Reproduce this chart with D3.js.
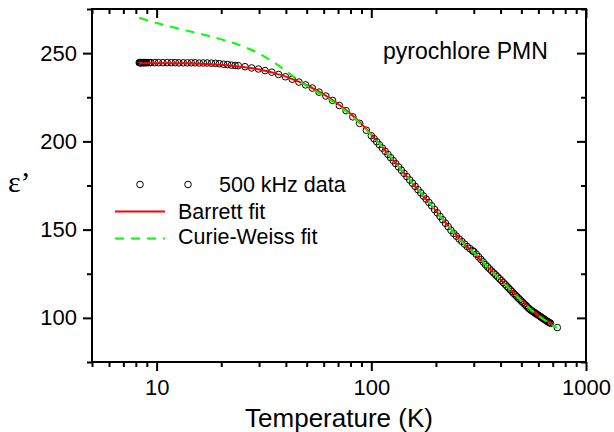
<!DOCTYPE html>
<html>
<head>
<meta charset="utf-8">
<script src="https://cdn.jsdelivr.net/npm/d3@7/dist/d3.min.js"></script>
<style>
  body { margin: 0; background: #fff; }
  svg { display: block; font-family: "Liberation Sans", Arial, sans-serif; }
</style>
</head>
<body>
<svg id="chart" width="614" height="432"></svg>
<script>
// 500 kHz data, temperature (K) and eps'
const dataT = [
  8.3, 8.35, 8.4, 8.45, 8.5, 8.6, 8.7, 8.8, 8.9, 9.0, 9.2, 9.4,
  9.8, 10.2, 10.7, 11.2, 11.7, 12.2, 12.7, 13.3, 13.9, 14.5, 15.1, 15.8,
  16.5, 17.2, 18.0, 18.8, 19.6, 20.5, 21.4, 22.3, 23.2,
  24, 25.8, 27.7, 29.8, 32, 34.4, 37, 39.8, 42.8, 46, 49.4, 53.1, 57.1,
  61.4, 66, 71, 76.3, 82, 88.2, 94.8,
  100, 103, 106, 109, 112.5, 116, 119.5, 123, 126.5, 130, 134, 138, 142,
  146.5, 151, 155.5, 160, 165, 170, 175, 180, 185.5, 191, 197, 203, 209,
  215, 221.5, 228, 235, 242, 249, 256.5, 264, 272, 280, 288, 296,
  300, 308, 316, 324, 332, 340, 348, 356, 364, 372, 380, 388, 396, 404,
  412, 420, 428, 436, 444, 452, 460, 468, 476, 484, 492, 500, 508, 516,
  524, 532, 540, 548, 556, 564, 572, 580, 588, 596, 604, 612, 620, 628,
  636, 644, 652, 660, 668, 676, 684, 735
];
const dataEps = [
  244.6, 244.6, 244.6, 244.6, 244.6, 244.6, 244.6, 244.6, 244.6, 244.6, 244.6, 244.6,
  244.6, 244.6, 244.6, 244.6, 244.6, 244.6, 244.5, 244.5, 244.5, 244.5, 244.5, 244.4,
  244.4, 244.4, 244.3, 244.2, 244.0, 243.7, 243.5, 243.2, 243.0,
  242.9, 242.3, 241.6, 241.0, 240.1, 239.2, 237.9, 236.6, 235.2, 233.6, 232.0, 230.2, 227.9,
  225.7, 223.2, 220.3, 217.4, 213.9, 210.2, 206.3,
  203.2, 201.5, 199.8, 198.1, 196.2, 194.4, 192.6, 190.8, 189.1, 187.4, 185.5, 183.7, 181.9,
  180.0, 178.1, 176.3, 174.5, 172.6, 170.8, 169.0, 167.3, 165.4, 163.5, 161.4, 159.5, 157.5,
  155.6, 153.6, 151.7, 149.6, 147.8, 146.3, 144.7, 143.3, 141.8, 140.4, 139.2, 138.0,
  137.6, 136.1, 134.6, 133.1, 131.7, 130.2, 128.9, 127.7, 126.5, 125.4, 124.3, 123.2, 122.1, 121.1,
  120.0, 119.0, 117.9, 116.9, 115.9, 114.9, 113.9, 113.0, 112.1, 111.2, 110.4, 109.5, 108.7, 107.9,
  107.1, 106.3, 105.5, 104.8, 104.2, 103.7, 103.2, 102.7, 102.2, 101.7, 101.3, 100.8, 100.3, 99.8,
  99.4, 98.9, 98.5, 98.0, 97.6, 97.3, 96.9, 94.5
];

// Barrett fit (red solid)
const barrettT = [8.3, 10, 12, 14, 16, 18, 20, 22, 25, 28, 32, 36, 40, 45, 50, 56, 63, 70,
  78, 86, 95, 105, 115, 126, 138, 150, 165, 180, 200, 220, 240, 260, 280, 300, 330, 360,
  400, 450, 500, 550, 600, 650, 686];
const barrettEps = [244.3, 244.3, 244.3, 244.2, 244.0, 243.7, 243.3, 242.9, 242.2, 241.4, 240.0,
  238.4, 236.7, 234.3, 231.8, 228.7, 225.0, 221.2, 216.8, 212.2, 206.9, 201.0, 195.4, 189.6,
  183.8, 178.5, 172.6, 167.2, 160.6, 154.6, 149.2, 144.4, 140.2, 136.8, 131.6, 127.2, 121.8,
  115.6, 110.2, 105.4, 101.4, 98.6, 96.8];

// Curie-Weiss fit (green dashed)
const cwT = [8.3, 10.2, 12.2, 14.4, 16.4, 20, 24, 28, 34.4, 42.2, 46, 50, 55, 60, 70, 80, 90,
  100, 115, 130, 150, 170, 190, 210, 240, 270, 300, 350, 400, 450, 500, 550, 600, 650, 700, 735];
const cwEps = [270.0, 266.8, 264.4, 262.2, 260.6, 257.8, 254.8, 251.5, 245.5, 237.8, 234.2, 231.5,
  228.5, 225.8, 220.4, 215.0, 209.3, 203.6, 195.5, 187.6, 178.6, 171.0, 164.0, 157.5, 148.8,
  142.0, 137.0, 128.6, 121.5, 115.2, 109.6, 104.9, 101.2, 98.3, 95.8, 94.3];

const xMajor = [10, 100, 1000];
const xMinor = [5, 6, 7, 8, 9, 20, 30, 40, 50, 60, 70, 80, 90, 200, 300, 400, 500, 600, 700, 800, 900];
const yMajor = [100, 150, 200, 250];
const yMinor = [75, 125, 175, 225, 275];

const svg = d3.select("#chart");
const plotL = 92, plotR = 586, plotT = 9, plotB = 362;

const x = d3.scaleLog().domain([5, 1000]).range([plotL, plotR]);
const y = d3.scaleLinear().domain([75, 275]).range([plotB, plotT]);

// axes: major/minor on all four sides
function styleAxis(g) {
  g.select(".domain").remove();
  g.selectAll(".tick line").attr("stroke", "#000").attr("stroke-width", 2);
  g.selectAll(".tick text").attr("fill", "#000").style("font-size", "22px")
    .style("font-family", "'Liberation Sans', Arial, sans-serif");
}

svg.append("g").attr("transform", `translate(0,${plotB})`)
  .call(d3.axisBottom(x).tickValues(xMajor).tickSize(9).tickPadding(8).tickFormat(d3.format("d")))
  .call(styleAxis);
svg.append("g").attr("transform", `translate(0,${plotB})`)
  .call(d3.axisBottom(x).tickValues(xMinor).tickSize(5).tickFormat(""))
  .call(styleAxis);
svg.append("g").attr("transform", `translate(0,${plotT})`)
  .call(d3.axisTop(x).tickValues(xMajor).tickSize(-9).tickFormat(""))
  .call(styleAxis);
svg.append("g").attr("transform", `translate(0,${plotT})`)
  .call(d3.axisTop(x).tickValues(xMinor).tickSize(-5).tickFormat(""))
  .call(styleAxis);

svg.append("g").attr("transform", `translate(${plotL},0)`)
  .call(d3.axisLeft(y).tickValues(yMajor).tickSize(9).tickPadding(6))
  .call(styleAxis);
svg.append("g").attr("transform", `translate(${plotL},0)`)
  .call(d3.axisLeft(y).tickValues(yMinor).tickSize(5).tickFormat(""))
  .call(styleAxis);
svg.append("g").attr("transform", `translate(${plotR},0)`)
  .call(d3.axisRight(y).tickValues(yMajor).tickSize(-9).tickFormat(""))
  .call(styleAxis);
svg.append("g").attr("transform", `translate(${plotR},0)`)
  .call(d3.axisRight(y).tickValues(yMinor).tickSize(-5).tickFormat(""))
  .call(styleAxis);

// frame
svg.append("rect")
  .attr("x", plotL).attr("y", plotT)
  .attr("width", plotR - plotL).attr("height", plotB - plotT)
  .attr("fill", "none").attr("stroke", "#000").attr("stroke-width", 2);

// data circles
const points = dataT.map((t, i) => ({ t: t, e: dataEps[i] }));
svg.append("g").selectAll("circle")
  .data(points)
  .join("circle")
  .attr("cx", d => x(d.t))
  .attr("cy", d => y(d.e))
  .attr("r", 3.3)
  .attr("fill", "none")
  .attr("stroke", "#000")
  .attr("stroke-width", 1);

const line = d3.line()
  .x(d => x(d[0]))
  .y(d => y(d[1]))
  .curve(d3.curveMonotoneX);

svg.append("path")
  .datum(barrettT.map((t, i) => [t, barrettEps[i]]))
  .attr("fill", "none")
  .attr("stroke", "#ff0000")
  .attr("stroke-width", 2)
  .attr("d", line);

svg.append("path")
  .datum(cwT.map((t, i) => [t, cwEps[i]]))
  .attr("fill", "none")
  .attr("stroke", "#00ff00")
  .attr("stroke-width", 2)
  .attr("stroke-dasharray", "9,7")
  .attr("d", line);

// legend
const legend = svg.append("g");
[140, 188].forEach(cx => {
  legend.append("circle").attr("cx", cx).attr("cy", 184.5).attr("r", 3.3)
    .attr("fill", "none").attr("stroke", "#000").attr("stroke-width", 1);
});
legend.append("text").attr("x", 219).attr("y", 192).style("font-size", "21.5px").text("500 kHz data");
legend.append("line").attr("x1", 115).attr("x2", 165).attr("y1", 211.5).attr("y2", 211.5)
  .attr("stroke", "#ff0000").attr("stroke-width", 2);
legend.append("text").attr("x", 178).attr("y", 218.5).style("font-size", "21.5px").text("Barrett fit");
legend.append("line").attr("x1", 115).attr("x2", 165).attr("y1", 238.5).attr("y2", 238.5)
  .attr("stroke", "#00ff00").attr("stroke-width", 2).attr("stroke-dasharray", "9,7");
legend.append("text").attr("x", 178).attr("y", 244).style("font-size", "21.5px").text("Curie-Weiss fit");

// annotation
svg.append("text").attr("x", 383).attr("y", 59).style("font-size", "23px").text("pyrochlore PMN");

// axis titles
svg.append("text")
  .attr("x", (plotL + plotR) / 2).attr("y", 427)
  .attr("text-anchor", "middle")
  .style("font-size", "26px")
  .text("Temperature (K)");

svg.append("text")
  .attr("x", 8).attr("y", 192)
  .style("font-family", "'Liberation Serif', 'Times New Roman', serif")
  .style("font-size", "30px")
  .text("ε’");
</script>
</body>
</html>
